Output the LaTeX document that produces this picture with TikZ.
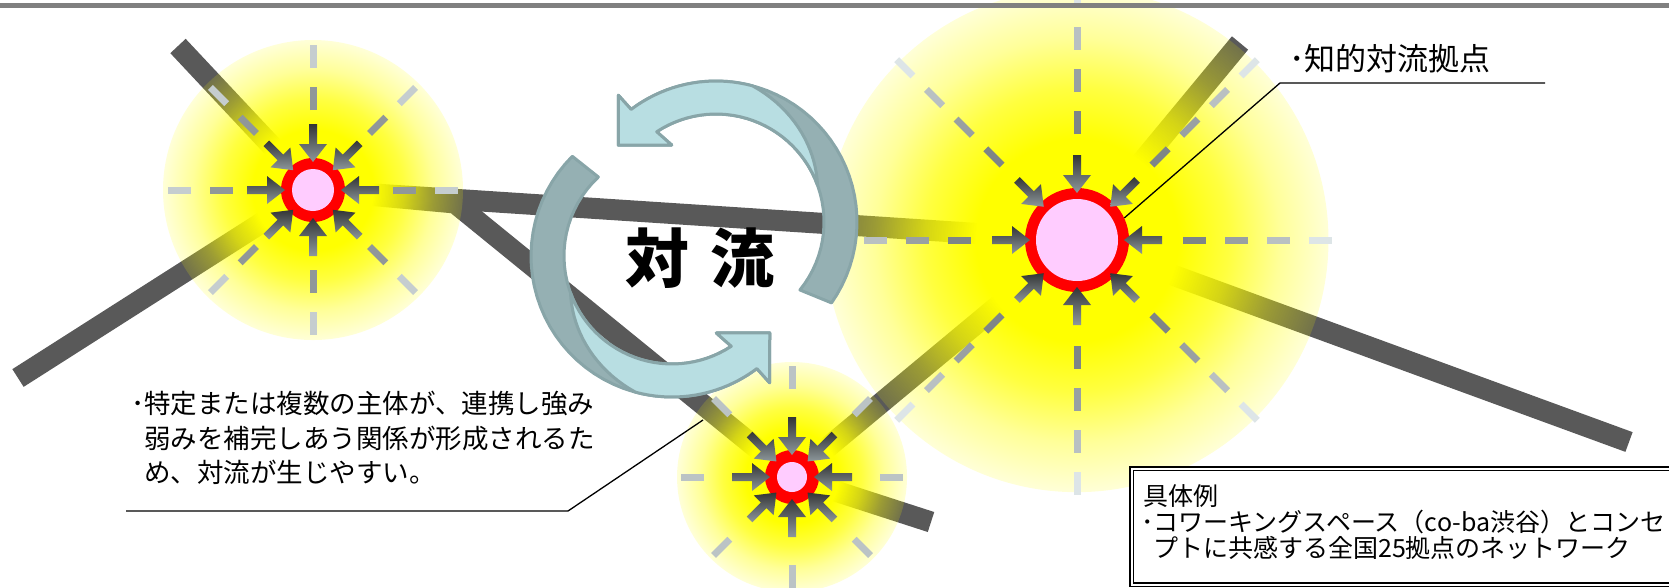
\documentclass[tikz,border=0pt]{standalone}
\usepackage{fontspec}
\newfontfamily\jp{Noto Sans CJK JP}
\usetikzlibrary{calc,fadings}

\definecolor{roadgray}{HTML}{595959}
\definecolor{bargray}{HTML}{808080}
\definecolor{glowyellow}{HTML}{FFFF00}
\definecolor{ringred}{HTML}{FF0000}
\definecolor{hubpink}{HTML}{FFCCFF}
\definecolor{arrowdark}{HTML}{333536}
\definecolor{arrowlight}{HTML}{8E989C}
\definecolor{raydark}{HTML}{585F61}
\definecolor{raylight}{HTML}{F0F8FA}
\definecolor{convlight}{HTML}{B8DEE2}
\definecolor{convdark}{HTML}{95B0B3}
\definecolor{convedge}{HTML}{88A5A8}

% halo: solid core, then fading out to a pale rim
\pgfdeclareradialshading{haloshading}{\pgfpointorigin}{%
  color(0bp)=(white); color(10bp)=(white);
  color(15bp)=(black!25); color(20bp)=(black!60);
  color(25bp)=(black!85); color(50bp)=(black!85)}
\pgfdeclarefading{halofade}{\pgfuseshading{haloshading}}

% hub: #1 centre, #2 ring radius, #3 core radius, #4 arrow tip radius,
%      #5 halo radius, #6 dash starts
\newcommand{\hub}[6]{%
  \begin{scope}[shift={(#1)}]
    \foreach \a in {0,45,...,315}
      \foreach \r in {#6} {
        \pgfmathsetmacro\rayshade{100*(\r/#5)^1.6}
        \draw[hubray, draw=raylight!\rayshade!raydark] (\a:\r) -- (\a:{\r+23});
      }
  \end{scope}
  \node[hubring, minimum size=2*#2] (ring#1) at (#1) {};
  \fill[hubpink] (#1) circle (#3pt);
  \begin{scope}[shift={(#1)}]
    \foreach \a in {0,45,...,315}
      \shade[hubarrow, rotate=\a] (#4,0) -- ({#4+18},14) -- ({#4+18},4) -- ({#4+38},4)
        -- ({#4+38},-4) -- ({#4+18},-4) -- ({#4+18},-14) -- cycle;
  \end{scope}
}

% one half of the circulation arrow; #1/#2 = tail angle inner/outer
\newcommand{\swirl}[2]{%
  \filldraw[swirlback] (-127:141) -- (-127.6:160) -- (-141.8:124.4) -- (-119.9:88.8) -- (-123.3:108)
    -- plot[domain=-123.3:#1, samples=40] (\x:108) -- (#2:141)
    -- plot[domain=#2:-127, samples=40] (\x:141) -- cycle;
  \filldraw[swirlface] (-127:141) -- (-127.6:160) -- (-141.8:124.4) -- (-119.9:88.8) -- (-123.3:108)
    -- plot[domain=-123.3:-20, samples=30] (\x:108)
    -- plot[domain=-20:-75, samples=20] (\x:{108+0.6*(-20-\x)})
    -- plot[domain=-75:-127, samples=20] (\x:141) -- cycle;
}

\begin{document}
\begin{tikzpicture}[x=1pt, y=-1pt,
  roadline/.style={line width=21pt, draw=roadgray},
  halo/.style={fill=glowyellow, path fading=halofade},
  hubray/.style={line width=7pt},
  hubring/.style={circle, fill=ringred, inner sep=0pt},
  hubarrow/.style={top color=arrowdark, bottom color=arrowlight},
  swirlback/.style={fill=convdark, draw=convedge, line width=3pt, line join=round},
  swirlface/.style={fill=convlight, draw=convedge, line width=3pt, line join=round},
  leader/.style={draw=black, line width=1.3pt},
  notetext/.style={font=\jp\fontsize{26.5}{30}\selectfont, inner sep=0pt, anchor=base west},
  tagtext/.style={font=\jp\fontsize{31}{34}\selectfont, inner sep=0pt, anchor=base west},
  boxtext/.style={font=\jp\fontsize{25}{26}\selectfont, inner sep=0pt, anchor=base west},
  bigtext/.style={font=\jp\bfseries\fontsize{64}{64}\selectfont, inner sep=0pt},
  exbox/.style={draw=black, fill=white, double=white, double distance=2pt, line width=1.1pt,
                inner sep=0pt, minimum width=560, minimum height=116}]
\useasboundingbox (0,0) rectangle (1669,587);

% hubs and road ends
\coordinate (L) at (313,190);
\coordinate (B) at (1077,240);
\coordinate (S) at (792,477);
\coordinate (endNW) at (178,46);
\coordinate (endSW) at (18,378);
\coordinate (endNE) at (1240,43);
\coordinate (endSE) at (1629,442);
\coordinate (endS) at (931,522);
\coordinate (fork) at (455,203);

% roads
\draw[roadline] (endNW) -- (L);
\draw[roadline] (endSW) -- (L);
\draw[roadline] (L) -- (B);
\draw[roadline, line join=round] (L) -- (fork) -- (S) -- (endS);
\draw[roadline] (S) -- (B);
\draw[roadline] (B) -- (endNE);
\draw[roadline] (B) -- (endSE);

% halos
\fill[halo] (L) circle (150pt);
\fill[halo] (S) circle (115pt);
\fill[halo] (B) circle (252pt);

\hub{B}{52}{41}{47}{252}{106,148,190,232}
\hub{L}{32}{21}{28}{150}{80,122}
\hub{S}{27}{15}{22}{115}{88}

% circulation arrows
\begin{scope}[shift={(716,222)}]
  \swirl{39}{35}
\end{scope}
\begin{scope}[shift={(672,256)}, rotate=180]
  \swirl{47}{45}
\end{scope}
\node[bigtext] (convection) at (700,258) {対\hspace{22pt}流};

% labels
\node[tagtext] (hubtag) at (1289,70) {･知的対流拠点};
\coordinate (tagend) at (1545,83);
\coordinate (tagbend) at (1280,83);
\draw[leader] (tagend) -- (tagbend) -- (ringB.25);

\node[notetext] (note1) at (131,413) {･特定または複数の主体が、連携し強み};
\node[notetext] (note2) at (144,448) {弱みを補完しあう関係が形成されるた};
\node[notetext] (note3) at (144,482) {め、対流が生じやすい。};
\coordinate (notestart) at (126,511);
\coordinate (notebend) at (568,511);
\coordinate (notetip) at (703,420);
\draw[leader] (notestart) -- (notebend) -- (notetip);

\node[exbox, anchor=north west] (exframe) at (1131,468) {};
\node[boxtext] (ex1) at (1143,505) {具体例};
\node[boxtext] (ex2) at (1141,531) {･コワーキングスペース（co-ba渋谷）とコンセ};
\node[boxtext] (ex3) at (1153,557) {プトに共感する全国25拠点のネットワーク};

% header rule
\fill[bargray] (0,2.5) rectangle (1669,7.5);
\end{tikzpicture}
\end{document}
